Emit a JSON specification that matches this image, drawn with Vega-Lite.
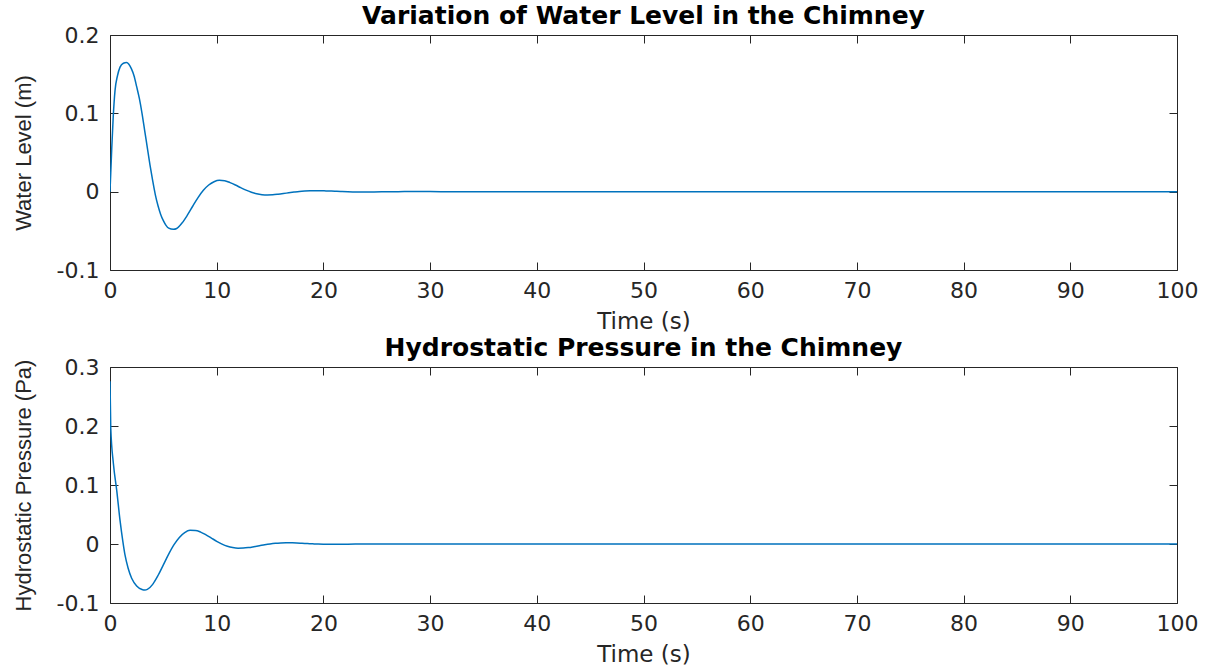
{
  "$schema": "https://vega.github.io/schema/vega-lite/v6.json",
  "background": "white",
  "padding": {"left": 11, "top": 3, "right": 0, "bottom": 0},
  "spacing": 97,
  "bounds": "flush",
  "config": {
    "view": {"stroke": "#262626", "strokeWidth": 1},
    "font": "DejaVu Sans",
    "axis": {
      "domain": false,
      "grid": false,
      "ticks": true,
      "tickColor": "#262626",
      "tickSize": -8,
      "tickWidth": 1,
      "labelFlush": false,
      "labelFont": "DejaVu Sans",
      "labelFontSize": 22,
      "labelColor": "#262626",
      "titleColor": "#262626",
      "titleFontWeight": "normal"
    },
    "axisX": {"labelPadding": 18, "titleFont": "DejaVu Sans", "titleFontSize": 23, "titlePadding": 9},
    "axisY": {"labelPadding": 19, "titleFont": "Liberation Sans", "titleFontSize": 22, "titlePadding": 21},
    "title": {"font": "DejaVu Sans", "fontWeight": "bold", "fontSize": 25, "color": "#000000", "anchor": "middle", "offset": -5}
  },
  "datasets": {
    "level": [
      {"t": 0, "v": 0}, {"t": 0.16, "v": 0.054}, {"t": 0.3, "v": 0.095}, {"t": 0.47, "v": 0.129},
      {"t": 0.7, "v": 0.148}, {"t": 0.94, "v": 0.159}, {"t": 1.25, "v": 0.164}, {"t": 1.56, "v": 0.165},
      {"t": 1.75, "v": 0.163}, {"t": 2.0, "v": 0.157}, {"t": 2.25, "v": 0.148}, {"t": 2.5, "v": 0.134},
      {"t": 2.75, "v": 0.119}, {"t": 3.0, "v": 0.1}, {"t": 3.25, "v": 0.078}, {"t": 3.5, "v": 0.056},
      {"t": 3.75, "v": 0.034}, {"t": 4.0, "v": 0.014}, {"t": 4.25, "v": -0.004}, {"t": 4.5, "v": -0.018},
      {"t": 4.75, "v": -0.029}, {"t": 5.0, "v": -0.037}, {"t": 5.25, "v": -0.043}, {"t": 5.5, "v": -0.0465}, {"t": 5.94, "v": -0.048},
      {"t": 6.25, "v": -0.047}, {"t": 6.75, "v": -0.04}, {"t": 7.25, "v": -0.03}, {"t": 7.75, "v": -0.0186},
      {"t": 8.25, "v": -0.0076}, {"t": 8.75, "v": 0.0017}, {"t": 9.25, "v": 0.0085}, {"t": 9.75, "v": 0.0127},
      {"t": 10.25, "v": 0.0145}, {"t": 10.75, "v": 0.014}, {"t": 11.25, "v": 0.0115}, {"t": 11.75, "v": 0.0085},
      {"t": 12.25, "v": 0.0051}, {"t": 12.75, "v": 0.0019}, {"t": 13.25, "v": -0.0007}, {"t": 13.75, "v": -0.0027},
      {"t": 14.25, "v": -0.0038}, {"t": 14.75, "v": -0.0042}, {"t": 15.25, "v": -0.004}, {"t": 15.75, "v": -0.0033},
      {"t": 16.25, "v": -0.0024}, {"t": 16.75, "v": -0.0014}, {"t": 17.25, "v": -0.0005}, {"t": 17.75, "v": 0.0003},
      {"t": 18.25, "v": 0.0008}, {"t": 18.75, "v": 0.0011}, {"t": 19.25, "v": 0.0012}, {"t": 19.75, "v": 0.0012},
      {"t": 20.25, "v": 0.0009}, {"t": 20.75, "v": 0.0007}, {"t": 21.25, "v": 0.0004}, {"t": 21.75, "v": 0.0001},
      {"t": 22.75, "v": -0.0003}, {"t": 23.75, "v": -0.0004}, {"t": 24.75, "v": -0.0003}, {"t": 25.75, "v": -0.0001},
      {"t": 27, "v": 0}, {"t": 28, "v": 0.0001}, {"t": 30, "v": 0.0001}, {"t": 32, "v": 0},
      {"t": 35, "v": 0}, {"t": 40, "v": 0}, {"t": 45, "v": 0}, {"t": 50, "v": 0}, {"t": 55, "v": 0},
      {"t": 60, "v": 0}, {"t": 65, "v": 0}, {"t": 70, "v": 0}, {"t": 75, "v": 0}, {"t": 80, "v": 0},
      {"t": 85, "v": 0}, {"t": 90, "v": 0}, {"t": 95, "v": 0}, {"t": 100, "v": 0}
    ],
    "pressure": [
      {"t": 0, "v": 0.276}, {"t": 0.07, "v": 0.197}, {"t": 0.32, "v": 0.136}, {"t": 0.63, "v": 0.091},
      {"t": 0.94, "v": 0.04}, {"t": 1.2, "v": 0.005}, {"t": 1.41, "v": -0.019}, {"t": 1.7, "v": -0.041},
      {"t": 2.03, "v": -0.058}, {"t": 2.5, "v": -0.071}, {"t": 3.0, "v": -0.077}, {"t": 3.28, "v": -0.078},
      {"t": 3.5, "v": -0.077}, {"t": 4.0, "v": -0.0684}, {"t": 4.5, "v": -0.0534}, {"t": 5.0, "v": -0.0353},
      {"t": 5.5, "v": -0.0171}, {"t": 6.0, "v": -0.0011}, {"t": 6.5, "v": 0.0112}, {"t": 7.0, "v": 0.0193},
      {"t": 7.5, "v": 0.0231}, {"t": 8.0, "v": 0.023}, {"t": 8.5, "v": 0.0202}, {"t": 9.0, "v": 0.0155},
      {"t": 9.5, "v": 0.0101}, {"t": 10.0, "v": 0.0046}, {"t": 10.5, "v": -0.0001}, {"t": 11.0, "v": -0.0037},
      {"t": 11.5, "v": -0.006}, {"t": 12.0, "v": -0.007}, {"t": 12.5, "v": -0.0069}, {"t": 13.0, "v": -0.006},
      {"t": 13.5, "v": -0.0045}, {"t": 14.0, "v": -0.0029}, {"t": 14.5, "v": -0.0012}, {"t": 15.0, "v": 0.0002},
      {"t": 15.5, "v": 0.0012}, {"t": 16.0, "v": 0.0018}, {"t": 16.5, "v": 0.0021}, {"t": 17.0, "v": 0.002},
      {"t": 17.5, "v": 0.0018}, {"t": 18.0, "v": 0.0013}, {"t": 18.5, "v": 0.0008}, {"t": 19.0, "v": 0.0003},
      {"t": 19.5, "v": -0.0001}, {"t": 20.0, "v": -0.0004}, {"t": 21, "v": -0.0006}, {"t": 22, "v": -0.0005},
      {"t": 23, "v": -0.0002}, {"t": 24, "v": 0}, {"t": 25, "v": 0.0002}, {"t": 26, "v": 0.0002},
      {"t": 27, "v": 0.0001}, {"t": 28, "v": 0}, {"t": 30, "v": 0}, {"t": 35, "v": 0}, {"t": 40, "v": 0},
      {"t": 45, "v": 0}, {"t": 50, "v": 0}, {"t": 55, "v": 0}, {"t": 60, "v": 0}, {"t": 65, "v": 0},
      {"t": 70, "v": 0}, {"t": 75, "v": 0}, {"t": 80, "v": 0}, {"t": 85, "v": 0}, {"t": 90, "v": 0},
      {"t": 95, "v": 0}, {"t": 100, "v": 0}
    ]
  },
  "vconcat": [
    {
      "width": 1067,
      "height": 235,
      "title": "Variation of Water Level in the Chimney",
      "layer": [
        {
          "data": {"name": "level"},
          "mark": {"type": "line", "color": "#0072BD", "strokeWidth": 1.5, "interpolate": "monotone", "clip": true},
          "encoding": {
            "x": {"field": "t", "type": "quantitative", "scale": {"domain": [0, 100], "nice": false},
                  "axis": {"title": "Time (s)", "values": [0, 10, 20, 30, 40, 50, 60, 70, 80, 90, 100]}},
            "y": {"field": "v", "type": "quantitative", "scale": {"domain": [-0.1, 0.2], "nice": false, "zero": false},
                  "axis": {"title": "Water Level (m)", "values": [-0.1, 0, 0.1, 0.2],
                           "labelExpr": "datum.value == 0 ? '0' : (datum.value < 0 ? '-' : '') + format(abs(datum.value), '.1f')"}}
          }
        },
        {
          "data": {"name": "level"},
          "mark": {"type": "line", "opacity": 0},
          "encoding": {
            "x": {"field": "t", "type": "quantitative", "scale": {"domain": [0, 100], "nice": false},
                  "axis": {"orient": "top", "title": null, "labels": false, "values": [0, 10, 20, 30, 40, 50, 60, 70, 80, 90, 100]}},
            "y": {"field": "v", "type": "quantitative", "scale": {"domain": [-0.1, 0.2], "nice": false, "zero": false},
                  "axis": {"orient": "right", "title": null, "labels": false, "values": [-0.1, 0, 0.1, 0.2]}}
          }
        }
      ],
      "resolve": {"axis": {"x": "independent", "y": "independent"}}
    },
    {
      "width": 1067,
      "height": 236,
      "title": "Hydrostatic Pressure in the Chimney",
      "layer": [
        {
          "data": {"name": "pressure"},
          "mark": {"type": "line", "color": "#0072BD", "strokeWidth": 1.5, "interpolate": "monotone", "clip": true},
          "encoding": {
            "x": {"field": "t", "type": "quantitative", "scale": {"domain": [0, 100], "nice": false},
                  "axis": {"title": "Time (s)", "values": [0, 10, 20, 30, 40, 50, 60, 70, 80, 90, 100]}},
            "y": {"field": "v", "type": "quantitative", "scale": {"domain": [-0.1, 0.3], "nice": false, "zero": false},
                  "axis": {"title": "Hydrostatic Pressure (Pa)", "values": [-0.1, 0, 0.1, 0.2, 0.3],
                           "labelExpr": "datum.value == 0 ? '0' : (datum.value < 0 ? '-' : '') + format(abs(datum.value), '.1f')"}}
          }
        },
        {
          "data": {"name": "pressure"},
          "mark": {"type": "line", "opacity": 0},
          "encoding": {
            "x": {"field": "t", "type": "quantitative", "scale": {"domain": [0, 100], "nice": false},
                  "axis": {"orient": "top", "title": null, "labels": false, "values": [0, 10, 20, 30, 40, 50, 60, 70, 80, 90, 100]}},
            "y": {"field": "v", "type": "quantitative", "scale": {"domain": [-0.1, 0.3], "nice": false, "zero": false},
                  "axis": {"orient": "right", "title": null, "labels": false, "values": [-0.1, 0, 0.1, 0.2, 0.3]}}
          }
        }
      ],
      "resolve": {"axis": {"x": "independent", "y": "independent"}}
    }
  ]
}
